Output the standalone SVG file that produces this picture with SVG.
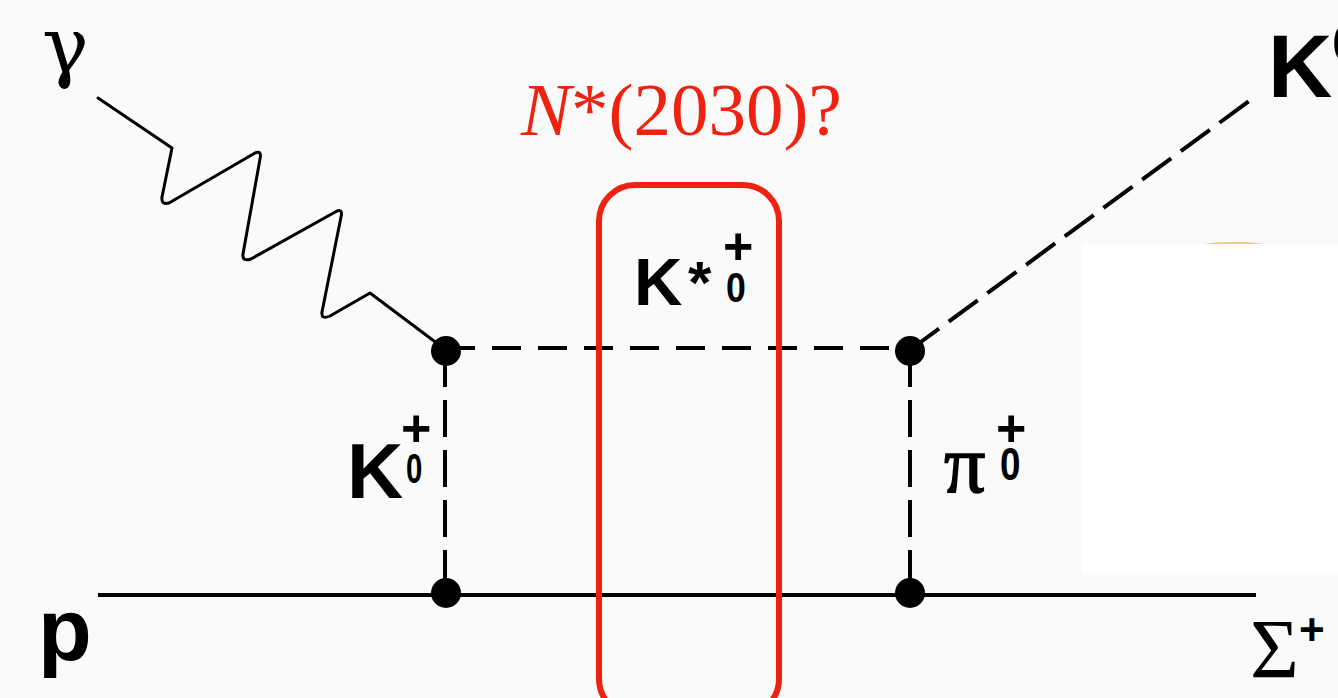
<svg xmlns="http://www.w3.org/2000/svg" width="1338" height="698" viewBox="0 0 1338 698">
  <style>
    .line { fill: none; stroke: #000; stroke-width: 4; }
    .dash-h { stroke-dasharray: 29 17; }
    .dash-v { stroke-dasharray: 37 13; }
    .dash-d { stroke-dasharray: 36 12; }
    .photon { fill: none; stroke: #000; stroke-width: 3; stroke-linejoin: round; stroke-linecap: round; }
    .vertex { fill: #000; }
    .sans { font-family: "Liberation Sans", Arial, sans-serif; font-weight: bold; fill: #000; }
    .serif { font-family: "Liberation Serif", "Times New Roman", serif; fill: #000; }
    .red { font-family: "Liberation Serif", "Times New Roman", serif; fill: #ee2211; }
  </style>
  <rect x="0" y="0" width="1338" height="698" fill="#fafafa"/>
  <ellipse cx="1234" cy="246" rx="34" ry="4" fill="#f5a040" opacity="0.6"/>
  <rect x="1082" y="244" width="256" height="329" fill="#ffffff"/>

  <g id="connectors">
    <path id="photon" class="photon" d="M98 98 L172 148 L162 197 Q161 205 169 203 L255 153 Q262 150 260 159 L243 254 Q242 262 251 259 L337 211 Q343 209 341 217 L322 312 Q321 320 330 316 L370 293 L446 350"/>
    <line class="line dash-h" x1="446" y1="348" x2="910" y2="348"/>
    <line class="line dash-v" x1="445" y1="350" x2="445" y2="593"/>
    <line class="line dash-v" x1="910" y1="350" x2="910" y2="593"/>
    <line class="line dash-d" x1="910" y1="350" x2="1256" y2="96"/>
    <line class="line" x1="98" y1="595" x2="1256" y2="595"/>
  </g>

  <g id="vertex-top-left"><circle class="vertex" cx="446" cy="351" r="15"/></g>
  <g id="vertex-bottom-left"><circle class="vertex" cx="446" cy="593" r="15"/></g>
  <g id="vertex-top-right"><circle class="vertex" cx="910" cy="351" r="15"/></g>
  <g id="vertex-bottom-right"><circle class="vertex" cx="910" cy="593" r="15"/></g>

  <g id="label-gamma"><text x="42" y="73" font-size="78" font-family="'DejaVu Serif', serif" fill="#000">γ</text></g>
  <g id="label-K0-out">
    <text class="sans" x="1268" y="97" font-size="89">K<tspan font-size="50" dy="-36">0</tspan></text>
  </g>
  <g id="label-Nstar"><text class="red" x="521" y="135" font-size="75"><tspan font-style="italic">N</tspan>*(2030)?</text></g>
  <g id="box-Nstar"><rect x="599" y="185" width="180" height="530" rx="36" ry="36" fill="none" stroke="#ee2211" stroke-width="6"/></g>
  <g id="label-Kstar">
    <text class="sans" x="634" y="305" font-size="67">K</text>
    <text class="sans" x="688" y="303" font-size="60">*</text>
    <text class="sans" x="723" y="264" font-size="52">+</text>
    <text class="sans" x="726" y="302" font-size="42" transform="translate(726 0) scale(0.85 1) translate(-726 0)">0</text>
  </g>
  <g id="label-K-left">
    <text class="sans" x="347" y="498" font-size="78">K</text>
    <text class="sans" x="401" y="446" font-size="52">+</text>
    <text class="sans" x="406" y="483" font-size="42" transform="translate(406 0) scale(0.7 1) translate(-406 0)">0</text>
  </g>
  <g id="label-pi">
    <text class="serif" x="944" y="492" font-size="82" stroke="#000" stroke-width="1.5">π</text>
    <text class="sans" x="996" y="446" font-size="52">+</text>
    <text class="sans" x="1000" y="480" font-size="46" transform="translate(1000 0) scale(0.8 1) translate(-1000 0)">0</text>
  </g>
  <g id="label-p"><text class="sans" x="38" y="660" font-size="88">p</text></g>
  <g id="label-Sigma">
    <text class="serif" x="1250" y="678" font-size="84">Σ</text>
    <text class="sans" x="1299" y="645" font-size="44">+</text>
  </g>
</svg>
